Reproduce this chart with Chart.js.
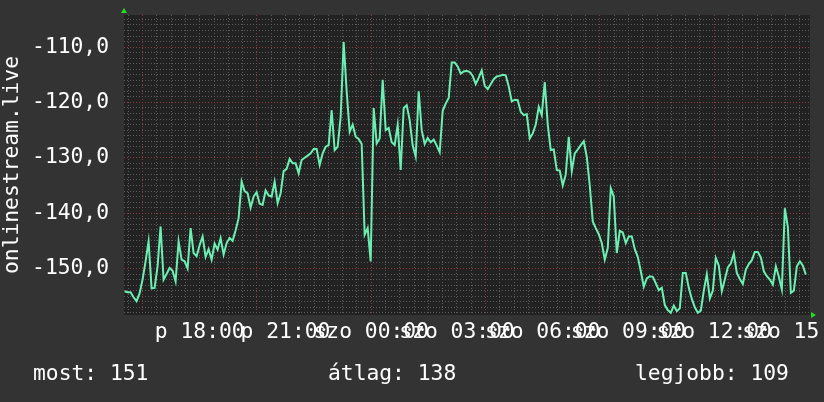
<!DOCTYPE html>
<html>
<head>
<meta charset="utf-8">
<script src="https://cdn.jsdelivr.net/npm/chart.js@4.4.1/dist/chart.umd.min.js"></script>
<style>
body { margin: 0; background: #333333; }
canvas { display: block; }
</style>
</head>
<body>
<canvas id="signal" width="824" height="402"></canvas>
<script>
// one sample every ~6.3 minutes, hours counted from friday 00:00
var startHour = 15.37;
var stepHours = 0.105;

var values = [
    -154.1, -154.3, -154.3, -155.2, -155.9, -154.5, -152.0, -148.7, -145.1, -153.6,
    -153.5, -149.6, -142.4, -152.0, -151.0, -149.9, -150.4, -152.3, -145.1, -148.4,
    -148.7, -150.0, -142.7, -147.2, -147.8, -145.8, -144.2, -147.9, -146.5, -148.4,
    -145.5, -146.6, -144.5, -147.5, -145.4, -144.5, -145.0, -143.1, -140.9, -134.3,
    -136.0, -136.4, -139.0, -137.0, -136.2, -138.3, -138.5, -135.9, -136.8, -137.0,
    -134.3, -138.2, -136.4, -132.4, -132.0, -130.2, -131.0, -131.0, -132.8, -130.4,
    -130.0, -129.6, -129.2, -128.4, -128.4, -131.3, -129.2, -128.0, -127.7, -121.4,
    -128.6, -128.0, -122.6, -109.1, -118.0, -125.3, -124.0, -126.2, -126.6, -127.5,
    -143.9, -142.7, -148.7, -121.0, -127.4, -126.5, -115.9, -125.0, -124.6, -127.2,
    -127.7, -124.0, -132.2, -121.0, -120.5, -123.2, -127.8, -129.8, -118.0, -125.0,
    -127.5, -126.4, -127.2, -126.7, -127.8, -129.0, -121.5, -120.2, -119.2, -112.8,
    -112.8, -113.5, -114.8, -114.4, -114.3, -114.5, -115.2, -116.7, -115.5, -114.2,
    -117.0, -117.6, -116.7, -115.8, -115.3, -115.2, -115.0, -115.1, -117.1, -119.8,
    -119.5, -119.6, -121.7, -122.3, -122.1, -126.5, -125.6, -124.0, -120.8, -122.3,
    -116.3, -124.0, -128.6, -128.5, -132.2, -132.3, -135.0, -133.0, -126.2, -132.4,
    -129.2, -128.5, -127.7, -127.0, -129.8, -135.0, -141.5, -142.7, -143.8, -145.4,
    -148.4, -146.3, -135.5, -137.0, -147.2, -143.2, -143.5, -145.4, -144.2, -144.2,
    -146.5, -147.9, -150.5, -153.3, -151.8, -151.4, -151.5, -152.7, -153.9, -153.5,
    -156.6, -157.5, -158.0, -156.7, -157.7, -157.2, -150.8, -150.8, -153.5, -155.5,
    -157.0, -158.0, -157.6, -154.0, -151.0, -155.4, -154.0, -148.1, -149.5, -154.1,
    -152.0, -149.8, -149.1, -147.3, -150.8, -151.9, -152.8, -150.2, -149.2, -148.5,
    -147.0, -147.0, -148.0, -150.5, -151.4, -152.0, -152.9, -149.6, -151.5, -153.8,
    -139.1, -142.5, -154.4, -154.0, -149.6, -148.7, -149.5, -151.1
];

var yTicks = [-150, -140, -130, -120, -110];
var yTickLabels = ['-150,0', '-140,0', '-130,0', '-120,0', '-110,0'];
var xTickHours = [18, 21, 24, 27, 30, 33, 36, 39];
var xTickLabels = ['p 18:00', 'p 21:00', 'szo 00:00', 'szo 03:00', 'szo 06:00', 'szo 09:00', 'szo 12:00', 'szo 15:00'];
var yTitle = 'onlinestream.live';
var statLabels = ['most: 151', 'átlag: 138', 'legjobb: 109'];

var lineColor = '#6cefb3';
var minorGrid = '#5a5a5a';
var majorGrid = '#8c3a3a';
var font = { family: 'DejaVu Sans Mono', size: 21.3 };

function make_points()
{
    var pts = [];
    for (var i = 0; i < values.length; i++)
        pts.push({ x: startHour + i * stepHours, y: values[i] });
    return pts;
}

// rrd style decorations: dark canvas, axis arrows, summary line
var rrdPlugin = {
    id: 'rrd',
    beforeDraw: function (chart)
    {
        var ctx = chart.ctx, a = chart.chartArea;
        ctx.save();
        ctx.fillStyle = '#333333';
        ctx.fillRect(0, 0, chart.width, chart.height);
        ctx.fillStyle = '#222222';
        ctx.fillRect(a.left, a.top, a.right - a.left, a.bottom - a.top);
        ctx.restore();
    },
    afterDraw: function (chart)
    {
        var ctx = chart.ctx, a = chart.chartArea;
        ctx.save();
        ctx.fillStyle = '#22dd22';
        ctx.beginPath();
        ctx.moveTo(a.left - 3, a.top - 2);
        ctx.lineTo(a.left + 3, a.top - 2);
        ctx.lineTo(a.left, a.top - 7);
        ctx.fill();
        ctx.beginPath();
        ctx.moveTo(a.right + 1, a.bottom - 3);
        ctx.lineTo(a.right + 1, a.bottom + 3);
        ctx.lineTo(a.right + 6, a.bottom);
        ctx.fill();

        ctx.fillStyle = '#ffffff';
        ctx.font = font.size + 'px "' + font.family + '"';
        ctx.textBaseline = 'alphabetic';
        var xs = [33, 328, 635];
        for (var i = 0; i < statLabels.length; i++)
            ctx.fillText(statLabels[i], xs[i], 380);
        ctx.restore();
    }
};

new Chart(document.getElementById('signal'),
{
    type: 'line',
    data:
    {
        datasets: [
            {
                data: make_points(),
                borderColor: lineColor,
                borderWidth: 2,
                pointRadius: 0,
                tension: 0,
                fill: false
            }
        ]
    },
    options:
    {
        responsive: false,
        animation: false,
        devicePixelRatio: 1,
        layout: { padding: { left: 0, right: 14, top: 15, bottom: 0 } },
        plugins: { legend: { display: false }, tooltip: { enabled: false } },
        scales:
        {
            x:
            {
                type: 'linear',
                min: 15.35,
                max: 39.35,
                border: { display: false, dash: [1, 2] },
                grid:
                {
                    drawTicks: false,
                    color: function (c) { return c.tick && c.tick.value % 4 === 0 ? majorGrid : minorGrid; }
                },
                ticks:
                {
                    autoSkip: false,
                    maxRotation: 0,
                    padding: 5,
                    color: '#ffffff',
                    font: font,
                    callback: function (v)
                    {
                        var k = xTickHours.indexOf(v);
                        return k >= 0 ? xTickLabels[k] : '';
                    }
                },
                afterBuildTicks: function (scale)
                {
                    scale.ticks = [];
                    for (var h = 15.5; h <= 39; h += 0.5) scale.ticks.push({ value: h });
                },
                afterFit: function (scale)
                {
                    scale.height = 87;
                    scale.paddingLeft = 0;
                    scale.paddingRight = 0;
                }
            },
            y:
            {
                min: -158.4,
                max: -104.2,
                border: { display: false, dash: [1, 2] },
                grid:
                {
                    drawTicks: false,
                    color: function (c) { return c.tick && c.tick.value % 10 === 0 ? majorGrid : minorGrid; }
                },
                title:
                {
                    display: true,
                    text: yTitle,
                    color: '#ffffff',
                    font: font,
                    padding: 0
                },
                ticks:
                {
                    autoSkip: false,
                    padding: 15,
                    color: '#ffffff',
                    font: font,
                    callback: function (v)
                    {
                        var k = yTicks.indexOf(v);
                        return k >= 0 ? yTickLabels[k] : '';
                    }
                },
                afterBuildTicks: function (scale)
                {
                    scale.ticks = [];
                    for (var v = -158; v <= -105; v++) scale.ticks.push({ value: v });
                },
                afterFit: function (scale)
                {
                    scale.width = 124;
                    scale.paddingTop = 0;
                    scale.paddingBottom = 0;
                }
            }
        }
    },
    plugins: [rrdPlugin]
});
</script>
</body>
</html>
